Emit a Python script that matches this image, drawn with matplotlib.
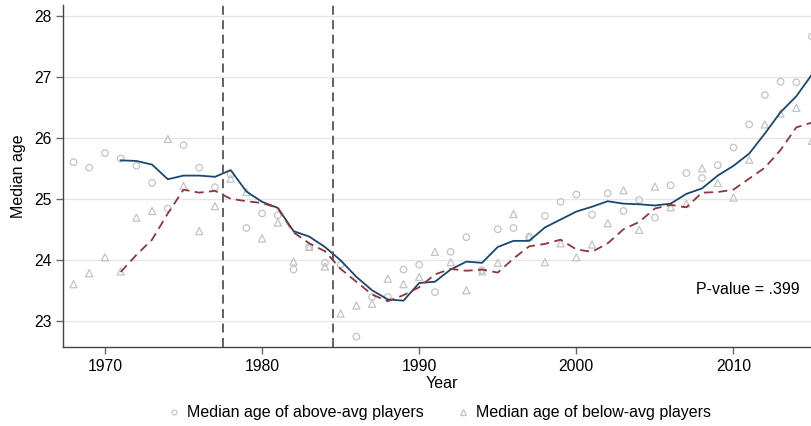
import numpy as np
import matplotlib
matplotlib.use('Agg')
import matplotlib.pyplot as plt
from matplotlib.lines import Line2D

plt.rcParams['font.family'] = ['Liberation Sans', 'DejaVu Sans']

# yearly medians (scatter) and smoothed trends (lines)
years = np.arange(1968, 2016)
above_avg = [25.60, 25.51, 25.75, 25.66, 25.54, 25.26, 24.84, 25.88, 25.51, 25.19,
             25.40, 24.52, 24.76, 24.73, 23.84, 24.21, 23.95, 23.92, 22.74, 23.39,
             23.39, 23.84, 23.92, 23.47, 24.13, 24.37, 23.83, 24.50, 24.52, 24.38,
             24.72, 24.95, 25.07, 24.74, 25.09, 24.80, 24.98, 24.69, 25.22, 25.42,
             25.34, 25.55, 25.84, 26.22, 26.70, 26.92, 26.91, 27.66]
below_avg = [23.60, 23.78, 24.04, 23.81, 24.69, 24.80, 25.98, 25.21, 24.47, 24.88,
             25.33, 25.11, 24.35, 24.61, 23.97, 24.21, 23.89, 23.12, 23.25, 23.28,
             23.69, 23.60, 23.72, 24.13, 23.96, 23.50, 23.81, 23.95, 24.75, 24.38,
             23.96, 24.27, 24.04, 24.25, 24.60, 25.14, 24.49, 25.20, 24.86, 24.92,
             25.50, 25.26, 25.02, 25.64, 26.22, 26.40, 26.49, 25.95]

trend_years = np.arange(1971, 2016)
above_trend = [25.63, 25.62, 25.56, 25.32, 25.38, 25.38, 25.36, 25.47, 25.12, 24.95,
               24.85, 24.47, 24.38, 24.21, 23.99, 23.72, 23.50, 23.35, 23.33, 23.62,
               23.64, 23.84, 23.97, 23.95, 24.21, 24.31, 24.31, 24.53, 24.66, 24.79,
               24.87, 24.96, 24.92, 24.91, 24.89, 24.92, 25.08, 25.17, 25.38, 25.54,
               25.74, 26.07, 26.42, 26.68, 27.04]
below_trend = [23.80, 24.08, 24.33, 24.76, 25.15, 25.10, 25.13, 25.00, 24.96, 24.93,
               24.85, 24.45, 24.27, 24.14, 23.85, 23.64, 23.43, 23.32, 23.42, 23.55,
               23.76, 23.85, 23.82, 23.84, 23.79, 24.02, 24.22, 24.26, 24.33, 24.17,
               24.13, 24.27, 24.50, 24.62, 24.84, 24.90, 24.86, 25.10, 25.11, 25.15,
               25.33, 25.51, 25.80, 26.17, 26.25]

breaks = [1977.5, 1984.5]
p_text = 'P-value = .399'

fig = plt.figure(figsize=(8.12, 4.26), dpi=100)
ax = fig.add_axes([0.078, 0.186, 0.922, 0.802])

marker_col = '#c4c4c4'
ax.scatter(years, above_avg, marker='o', s=22, facecolors='none',
           edgecolors=marker_col, linewidths=0.9, zorder=2)
ax.scatter(years, below_avg, marker='^', s=26, facecolors='none',
           edgecolors=marker_col, linewidths=0.9, zorder=2)

ax.plot(trend_years, above_trend, color='#1a476f', lw=1.3, zorder=3)
ax.plot(trend_years, below_trend, color='#90353b', lw=1.3, ls=(0, (5, 3)), zorder=3)

for b in breaks:
    ax.axvline(b, color='#555555', lw=1.3, ls=(0, (5, 3)), zorder=4)

ax.text(2014.2, 23.52, p_text, ha='right', va='center', fontsize=11.5)

ax.set_xlim(1967.35, 2015.0)
ax.set_ylim(22.574, 28.175)
ax.set_xticks([1970, 1980, 1990, 2000, 2010])
ax.set_yticks([23, 24, 25, 26, 27, 28])
ax.grid(axis='y', color='#e6e6e6', lw=1.0, zorder=0)
ax.set_axisbelow(True)

for side in ['top', 'right']:
    ax.spines[side].set_visible(False)
for side in ['left', 'bottom']:
    ax.spines[side].set_color('#444444')
    ax.spines[side].set_linewidth(1.0)
ax.tick_params(axis='both', length=5, width=1.0, color='#666666', labelsize=11.3, pad=3.5)

ax.set_xlabel('Year', fontsize=11.5, labelpad=1.5)
ax.xaxis.set_label_coords(0.506, -0.085)
ax.set_ylabel('Median age', fontsize=11.5, labelpad=6)

handles = [Line2D([], [], marker='o', ls='none', markersize=3.5, markerfacecolor='none',
                  markeredgecolor=marker_col, markeredgewidth=0.9),
           Line2D([], [], marker='^', ls='none', markersize=4, markerfacecolor='none',
                  markeredgecolor=marker_col, markeredgewidth=0.9)]
fig.legend(handles, ['Median age of above-avg players', 'Median age of below-avg players'],
           loc='center', bbox_to_anchor=(0.54, 0.031), ncol=2, frameon=False,
           fontsize=11.5, handletextpad=0.3, columnspacing=2.0, handlelength=1.0)

fig.savefig('out.png', dpi=100)
